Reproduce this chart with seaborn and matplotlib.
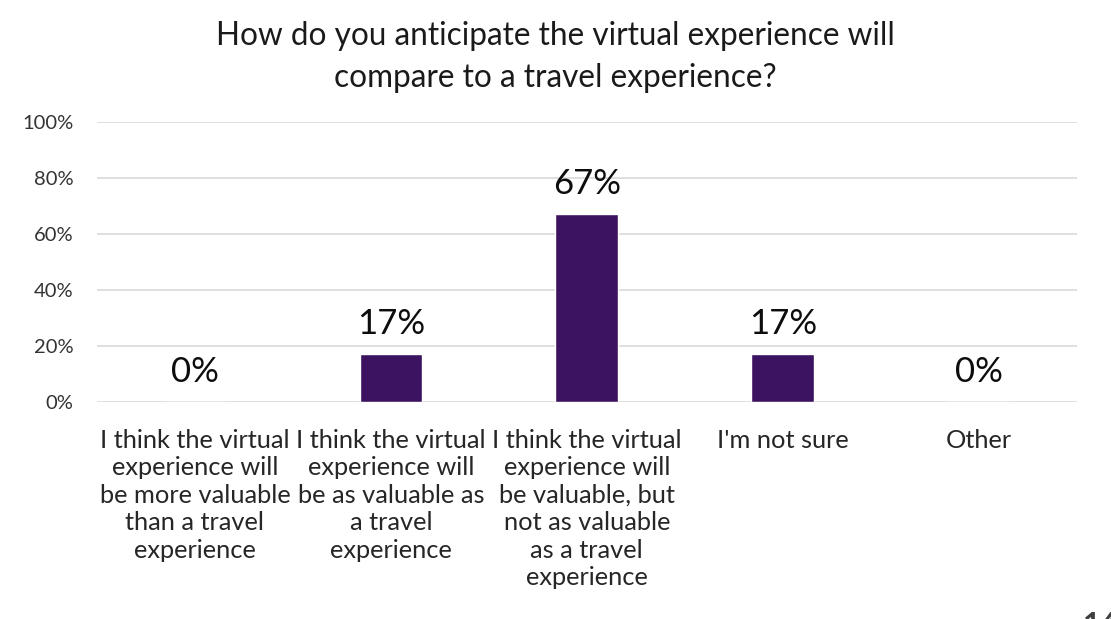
import matplotlib
matplotlib.use("Agg")
import matplotlib.pyplot as plt
import seaborn as sns
import pandas as pd

categories = [
    "I think the virtual\nexperience will\nbe more valuable\nthan a travel\nexperience",
    "I think the virtual\nexperience will\nbe as valuable as\na travel\nexperience",
    "I think the virtual\nexperience will\nbe valuable, but\nnot as valuable\nas a travel\nexperience",
    "I'm not sure",
    "Other",
]
values = [0, 17, 67, 17, 0]
yticks = [0, 20, 40, 60, 80, 100]
title = "How do you anticipate the virtual experience will\ncompare to a travel experience?"

sns.set_theme(style="white")
plt.rcParams['font.family'] = ['Lato', 'DejaVu Sans']

df = pd.DataFrame({"cat": categories, "val": values})

fig = plt.figure(figsize=(11.11, 6.19), dpi=100)
ax = fig.add_axes([0.0873, 0.3506, 0.8817, 0.4524])
sns.barplot(data=df, x="cat", y="val", color="#3C1361", width=0.32,
            saturation=1, ax=ax, zorder=3)
ax.set_ylim(0, 100)
ax.set_yticks(yticks)
ax.set_yticklabels([f"{t}%" for t in yticks], fontsize=14.5, color="#333333")
ax.set_xlabel("")
ax.set_ylabel("")
ax.tick_params(axis="x", labelsize=18.3, colors="#262626", pad=19.5, length=0)
ax.tick_params(axis="y", length=0, pad=17)
for lbl in ax.get_xticklabels():
    lbl.set_verticalalignment("top")
    lbl.set_horizontalalignment("center")
    lbl.set_linespacing(1.23)
ax.yaxis.grid(True, color="#D9D9D9", linewidth=1.2, zorder=0)
for s in ax.spines.values():
    s.set_visible(False)

for i, v in enumerate(values):
    ax.annotate(f"{v}%", (i, v), xytext=(0, 10), textcoords="offset points",
                ha="center", va="bottom", fontsize=25, color="#0d0d0d")

fig.text(0.5, 0.966, title, ha="center", va="top", fontsize=22.7,
         color="#1a1a1a", linespacing=1.48)
fig.text(0.975, 0.0129, "14", ha="left", va="top", fontsize=22,
         color="#404040", fontweight="bold")

fig.savefig("out.png", dpi=100)
